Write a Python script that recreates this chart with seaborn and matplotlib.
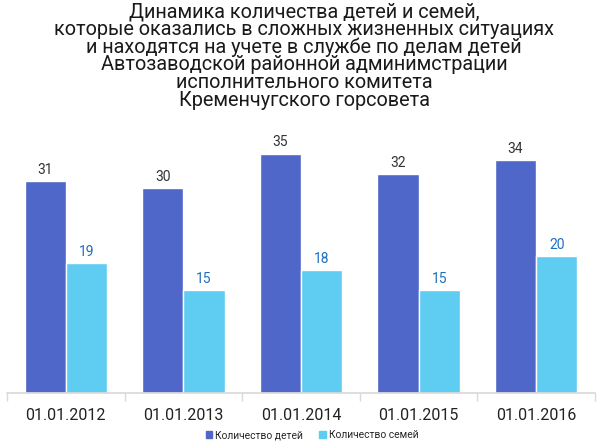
import matplotlib
matplotlib.use("Agg")
import matplotlib.pyplot as plt
import pandas as pd
import seaborn as sns

# Data
dates = ["01.01.2012", "01.01.2013", "01.01.2014", "01.01.2015", "01.01.2016"]
children = [31, 30, 35, 32, 34]
families = [19, 15, 18, 15, 20]
series_names = ["Количество детей", "Количество семей"]

title_lines = [
    "Динамика количества детей и семей,",
    "которые оказались в сложных жизненных ситуациях",
    "и находятся на учете в службе по делам детей",
    "Автозаводской районной админимстрации",
    "исполнительного комитета",
    "Кременчугского горсовета",
]

df = pd.DataFrame({
    "date": dates * 2,
    "value": children + families,
    "series": [series_names[0]] * len(dates) + [series_names[1]] * len(dates),
})

sns.set_theme(style="white")
plt.rcParams["font.family"] = ["Roboto", "DejaVu Sans"]

dark = "#4F67C8"
light = "#5FCDF2"

fig = plt.figure(figsize=(6.0, 4.47), dpi=100)
ax = fig.add_axes([7 / 600, 1 - 393 / 447, 588 / 600, 253 / 447])

sns.barplot(data=df, x="date", y="value", hue="series", order=dates,
            hue_order=series_names, palette=[dark, light], width=0.7,
            saturation=1, ax=ax, legend=False)

ax.set_ylim(0, 253 / 6.84)
ax.set_xlim(-0.5, len(dates) - 0.5)

label_colors = ["#333333", "#1F6FBF"]
for cont, col in zip(ax.containers, label_colors):
    ax.bar_label(cont, padding=3, fontsize=10, color=col)

for s in ["top", "right", "left"]:
    ax.spines[s].set_visible(False)
ax.spines["bottom"].set_color("#d9d9d9")
ax.set_yticks([])
ax.set_xlabel("")
ax.set_ylabel("")

# category separators as minor ticks
ax.set_xticks([i - 0.5 for i in range(len(dates) + 1)], minor=True)
ax.tick_params(axis="x", which="minor", length=6, color="#d9d9d9", bottom=True)
ax.tick_params(axis="x", which="major", length=0, pad=11, labelsize=11.5,
               labelcolor="#222222")

for i, line in enumerate(title_lines):
    fig.text(0.507, 1 - (12 + 17.6 * i) / 447, line, ha="center", va="center",
             fontsize=14.3, color="#1a1a1a")

handles = [plt.Rectangle((0, 0), 1, 1, color=c) for c in [dark, light]]
fig.legend(handles, series_names, loc="center", bbox_to_anchor=(0.52, 1 - 435 / 447),
           ncol=2, frameon=False, fontsize=7.4, handlelength=0.6,
           handleheight=0.6, handletextpad=0.3, columnspacing=1.6)

fig.savefig("out.png", dpi=100)
